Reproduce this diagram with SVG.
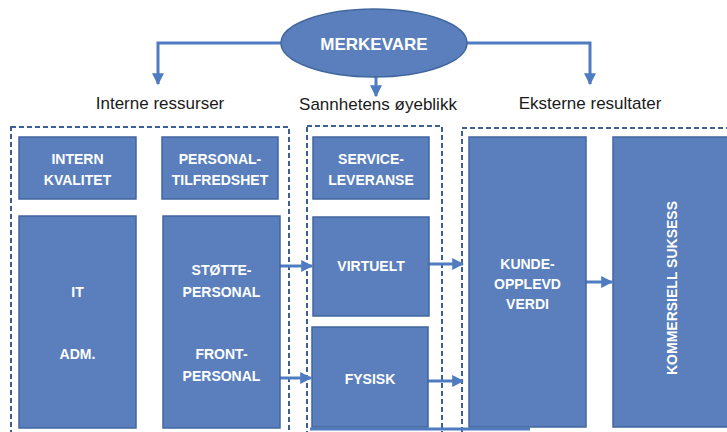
<svg xmlns="http://www.w3.org/2000/svg" width="727" height="432" viewBox="0 0 727 432">
<defs>
<marker id="ah" viewBox="0 0 10 10" refX="9" refY="5" markerWidth="4" markerHeight="4" orient="auto" markerUnits="strokeWidth"><path d="M0,0 L10,5 L0,10 z" fill="#4f7cc0"/></marker>
<style>
.box{fill:#5a7fbc;stroke:#41669e;stroke-width:1.5}
.t{font-family:"Liberation Sans",Arial,sans-serif;font-weight:bold;font-size:14px;fill:#ffffff;text-anchor:middle}
.lbl{font-family:"Liberation Sans",Arial,sans-serif;font-size:17px;fill:#1a1a1a;text-anchor:middle}
.dash{fill:none;stroke:#3d5f94;stroke-width:2;stroke-dasharray:5 3}
.c{fill:none;stroke:#4f7cc0;stroke-width:3}
</style>
</defs>
<rect width="727" height="432" fill="#ffffff"/>
<g id="groups">
<rect class="dash" x="11" y="127" width="278" height="320"/>
<rect class="dash" x="307" y="126" width="135" height="320"/>
<rect class="dash" x="462" y="128" width="280" height="320"/>
</g>
<g id="labels">
<text class="lbl" x="160" y="109">Interne ressurser</text>
<text class="lbl" x="378" y="110">Sannhetens øyeblikk</text>
<text class="lbl" x="590" y="109">Eksterne resultater</text>
</g>
<g id="connectors">
<path class="c" d="M281,43 H158 V84" marker-end="url(#ah)"/>
<path class="c" d="M467,43 H590 V84" marker-end="url(#ah)"/>
<path class="c" d="M376,76 V96" marker-end="url(#ah)"/>
<path class="c" d="M280,266 H312" marker-end="url(#ah)"/>
<path class="c" d="M280,378 H311" marker-end="url(#ah)"/>
<path class="c" d="M429,264 H463" marker-end="url(#ah)"/>
<path class="c" d="M428,381 H463" marker-end="url(#ah)"/>
<path class="c" d="M586,282 H612" marker-end="url(#ah)"/>
<path class="c" d="M530,429 H310"/>
</g>
<g id="merkevare">
<ellipse cx="374" cy="43" rx="93" ry="34" fill="#5a7fbc" stroke="#41669e" stroke-width="1.5"/>
<text class="t" x="374" y="50" style="font-size:17px">MERKEVARE</text>
</g>
<g id="intern-kvalitet">
<rect class="box" x="19" y="137" width="117" height="62"/>
<text class="t" x="77.5" y="164">INTERN</text>
<text class="t" x="77.5" y="185">KVALITET</text>
</g>
<g id="personaltilfredshet">
<rect class="box" x="162" y="137" width="116" height="62"/>
<text class="t" x="220" y="164">PERSONAL-</text>
<text class="t" x="220" y="185">TILFREDSHET</text>
</g>
<g id="it-adm">
<rect class="box" x="19" y="216" width="117" height="212"/>
<text class="t" x="77.5" y="297">IT</text>
<text class="t" x="77.5" y="359">ADM.</text>
</g>
<g id="personal">
<rect class="box" x="163" y="216" width="117" height="212"/>
<text class="t" x="221.5" y="275">STØTTE-</text>
<text class="t" x="221.5" y="297">PERSONAL</text>
<text class="t" x="221.5" y="359">FRONT-</text>
<text class="t" x="221.5" y="381">PERSONAL</text>
</g>
<g id="serviceleveranse">
<rect class="box" x="313" y="137" width="116" height="62"/>
<text class="t" x="371" y="164">SERVICE-</text>
<text class="t" x="371" y="185">LEVERANSE</text>
</g>
<g id="virtuelt">
<rect class="box" x="313" y="217" width="116" height="99"/>
<text class="t" x="371" y="271">VIRTUELT</text>
</g>
<g id="fysisk">
<rect class="box" x="312" y="327" width="116" height="100"/>
<text class="t" x="370" y="384">FYSISK</text>
</g>
<g id="kundeopplevd-verdi">
<rect class="box" x="469" y="137" width="117" height="290"/>
<text class="t" x="527.5" y="269">KUNDE-</text>
<text class="t" x="527.5" y="289">OPPLEVD</text>
<text class="t" x="527.5" y="309">VERDI</text>
</g>
<g id="kommersiell-suksess">
<rect class="box" x="613" y="137" width="130" height="290"/>
<text class="t" transform="translate(677,288) rotate(-90)">KOMMERSIELL SUKSESS</text>
</g>
</svg>
